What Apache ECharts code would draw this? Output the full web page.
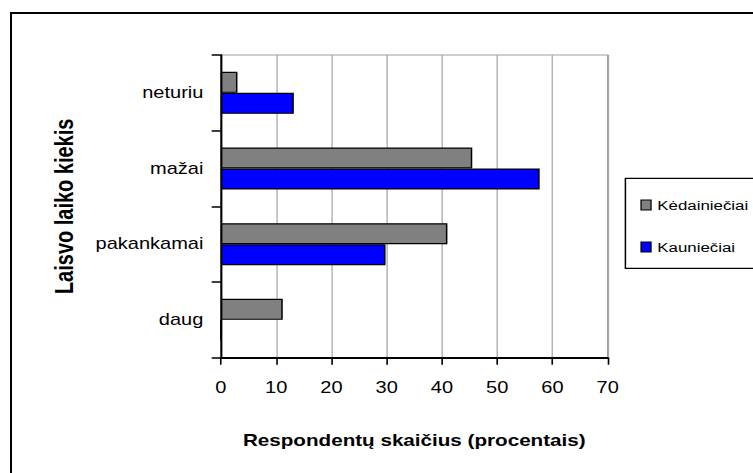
<!DOCTYPE html>
<html>
<head>
<meta charset="utf-8">
<script src="https://cdn.jsdelivr.net/npm/echarts@6/dist/echarts.min.js"></script>
<style>
  html, body { margin: 0; padding: 0; background: #fff; overflow: hidden; }
  #c { width: 602px; height: 473px; transform: scaleX(1.2508); transform-origin: 0 0; }
</style>
</head>
<body>
<div id="c"></div>
<script>
const categories = ['neturiu', 'mažai', 'pakankamai', 'daug'];
const kedainieciai = [3, 45.5, 41, 11.2];
const kaunieciai = [13.2, 57.7, 29.8, 0];
const xTicks = { min: 0, max: 70, interval: 10 };
const seriesNames = ['Kėdainiečiai', 'Kauniečiai'];
const xTitle = 'Respondentų skaičius (procentais)';
const yTitle = 'Laisvo laiko kiekis';

const font = 'Liberation Sans, Arial, sans-serif';
const chart = echarts.init(document.getElementById('c'), null, { renderer: 'svg' });
chart.setOption({
  animation: false,
  backgroundColor: '#ffffff',
  textStyle: { fontFamily: font, color: '#000' },
  graphic: [
    { type: 'line', shape: { x1: 8.8, y1: 12, x2: 8.8, y2: 490 }, style: { stroke: '#000', lineWidth: 1.6 } },
    { type: 'line', shape: { x1: 8, y1: 13, x2: 620, y2: 13 }, style: { stroke: '#000', lineWidth: 2 } }
  ],
  grid: {
    left: 176.6, right: 116.2, top: 55, bottom: 115.3,
    show: true, borderColor: '#a0a0a0', borderWidth: 1,
    outerBoundsMode: 'none'
  },
  legend: {
    orient: 'vertical',
    left: 500, top: 178.3,
    padding: [19.7, 14, 14.3, 12],
    itemGap: 28,
    itemWidth: 8, itemHeight: 10,
    icon: 'rect',
    borderColor: '#000', borderWidth: 1.2,
    textStyle: { fontFamily: font, fontSize: 13.5, color: '#000' },
    itemStyle: { borderColor: '#000', borderWidth: 1 },
    data: seriesNames
  },
  xAxis: {
    type: 'value',
    min: xTicks.min, max: xTicks.max, interval: xTicks.interval,
    name: xTitle,
    nameLocation: 'middle',
    nameGap: 74,
    nameTextStyle: { fontFamily: font, fontSize: 16.5, fontWeight: 'bold', color: '#000' },
    axisLine: { show: true, lineStyle: { color: '#000', width: 2 } },
    axisTick: { show: true, length: 7, lineStyle: { color: '#000', width: 1.3 } },
    axisLabel: { margin: 22, fontFamily: font, fontSize: 16, color: '#000' },
    splitLine: { show: true, lineStyle: { color: '#a6a6a6', width: 1 } }
  },
  yAxis: {
    type: 'category',
    data: categories,
    inverse: true,
    name: yTitle,
    nameLocation: 'middle',
    nameRotate: 90,
    nameGap: 115,
    nameTextStyle: { fontFamily: font, fontSize: 20, fontWeight: 'bold', color: '#000' },
    axisLine: { show: true, lineStyle: { color: '#000', width: 1.6 } },
    axisTick: { show: true, length: 7.4, lineStyle: { color: '#000', width: 1.5 } },
    axisLabel: { margin: 14, fontFamily: font, fontSize: 16, color: '#000' },
    splitLine: { show: false }
  },
  series: [
    {
      name: seriesNames[0], type: 'bar', data: kedainieciai,
      barWidth: 21, barGap: '0%',
      itemStyle: { color: '#808080', borderColor: '#000', borderWidth: 1.2 }
    },
    {
      name: seriesNames[1], type: 'bar', data: kaunieciai,
      barWidth: 21, barGap: '0%',
      itemStyle: { color: '#0000ff', borderColor: '#000', borderWidth: 1.2 }
    }
  ]
});
</script>
</body>
</html>
